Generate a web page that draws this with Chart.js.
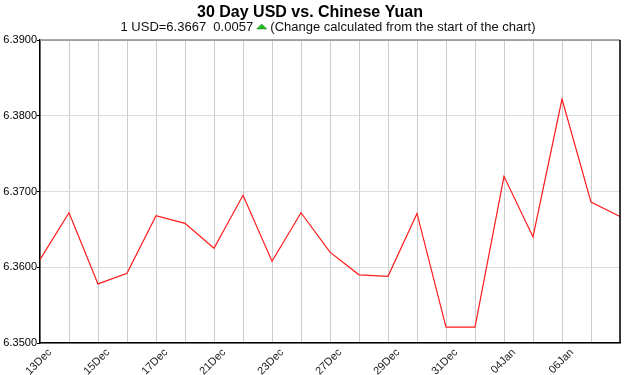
<!DOCTYPE html>
<html>
<head>
<meta charset="utf-8">
<script src="https://cdn.jsdelivr.net/npm/chart.js@4/dist/chart.umd.min.js"></script>
<style>
  html, body { margin: 0; padding: 0; background: #fff; }
  #wrap { width: 627px; height: 375px; }
</style>
</head>
<body>
<div id="wrap"><canvas id="fxChart" width="627" height="375"></canvas></div>
<script>
// trading days shown on the x axis
const dates = ['13Dec', '14Dec', '15Dec', '16Dec', '17Dec', '20Dec', '21Dec', '22Dec', '23Dec', '24Dec',
    '27Dec', '28Dec', '29Dec', '30Dec', '31Dec', '03Jan', '04Jan', '05Jan', '06Jan', '07Jan', '10Jan'];
const rates = [6.3610, 6.3672, 6.3578, 6.3592, 6.3668, 6.3658, 6.3625, 6.3695, 6.3608, 6.3672,
    6.3620, 6.3590, 6.3588, 6.3671, 6.3521, 6.3521, 6.3720, 6.3640, 6.3822, 6.3686, 6.3667];
const shownTicks = ['13Dec', '15Dec', '17Dec', '21Dec', '23Dec', '27Dec', '29Dec', '31Dec', '04Jan', '06Jan'];
const yTicks = [6.35, 6.36, 6.37, 6.38, 6.39];

const titleText = '30 Day USD vs. Chinese Yuan';
const subLeft = '1 USD=6.3667  0.0057 ';
const subRight = ' (Change calculated from the start of the chart)';

const font = 'Liberation Sans, Arial, sans-serif';

// title, subtitle with the green arrow, and the top/right frame
const decor = {
    id: 'decor',
    afterDraw(chart) {
        const ctx = chart.ctx;
        const a = chart.chartArea;
        ctx.save();
        ctx.fillStyle = '#000';
        ctx.textBaseline = 'alphabetic';
        ctx.textAlign = 'center';
        ctx.font = 'bold 16px ' + font;
        ctx.fillText(titleText, 310, 17);

        ctx.font = '13px ' + font;
        ctx.textAlign = 'left';
        const triW = 10;
        const w1 = ctx.measureText(subLeft).width;
        const w2 = ctx.measureText(subRight).width;
        let x = 328 - (w1 + triW + w2) / 2;
        ctx.fillStyle = '#111';
        ctx.fillText(subLeft, x, 31);
        x += w1;
        ctx.fillStyle = '#22bb22';
        ctx.beginPath();
        ctx.moveTo(x, 29);
        ctx.lineTo(x + triW, 29);
        ctx.lineTo(x + triW / 2, 24);
        ctx.closePath();
        ctx.fill();
        ctx.strokeStyle = '#117711';
        ctx.lineWidth = 0.5;
        ctx.stroke();
        x += triW;
        ctx.fillStyle = '#111';
        ctx.fillText(subRight, x, 31);

        ctx.lineWidth = 1.5;
        ctx.strokeStyle = '#888';
        ctx.beginPath();
        ctx.moveTo(a.left, a.top);
        ctx.lineTo(a.right, a.top);
        ctx.stroke();
        ctx.strokeStyle = '#000';
        ctx.beginPath();
        ctx.moveTo(a.right, a.top);
        ctx.lineTo(a.right, a.bottom);
        ctx.stroke();
        ctx.restore();
    }
};

new Chart(document.getElementById('fxChart'), {
    type: 'line',
    data: {
        labels: dates,
        datasets: [{
            data: rates,
            borderColor: '#ff1a1a',
            borderWidth: 1.2,
            pointRadius: 0,
            tension: 0,
            fill: false
        }]
    },
    options: {
        responsive: false,
        animation: false,
        layout: { padding: { top: 40, right: 7, left: 0, bottom: 0 } },
        plugins: {
            legend: { display: false },
            title: { display: false },
            tooltip: { enabled: false }
        },
        scales: {
            x: {
                offset: false,
                grid: { color: '#cccccc', drawTicks: false },
                border: { color: '#000', width: 1.5 },
                ticks: {
                    autoSkip: false,
                    maxRotation: 45,
                    minRotation: 45,
                    padding: 3,
                    labelOffset: 10,
                    color: '#222',
                    font: { family: font, size: 11 },
                    callback: function (v, i) {
                        const lab = dates[i];
                        return shownTicks.includes(lab) ? lab : '';
                    }
                },
                afterFit: function (s) {
                    s.height = 32;
                    s.paddingRight = 0;
                    s.paddingLeft = 0;
                }
            },
            y: {
                min: yTicks[0],
                max: yTicks[yTicks.length - 1],
                grid: { color: '#dddddd', tickColor: '#000', tickLength: 3 },
                border: { color: '#000', width: 1.5 },
                afterBuildTicks: function (s) { s.ticks = yTicks.map(v => ({ value: v })); },
                ticks: {
                    color: '#000',
                    padding: 0,
                    font: { family: font, size: 11 },
                    callback: v => v.toFixed(4)
                },
                afterFit: function (s) { s.width = 40; }
            }
        }
    },
    plugins: [decor]
});
</script>
</body>
</html>
